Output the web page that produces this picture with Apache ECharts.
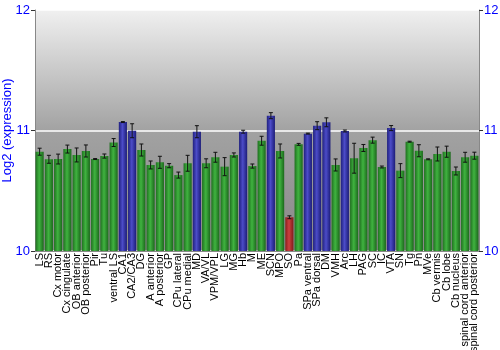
<!DOCTYPE html>
<html>
<head>
<meta charset="utf-8">
<script src="https://cdn.jsdelivr.net/npm/echarts@6/dist/echarts.min.js"></script>
<style>
  html, body { margin: 0; padding: 0; background: #fff; }
  #chart { width: 500px; height: 350px; }
</style>
</head>
<body>
<div id="chart"></div>
<script>
var regions = ['LS', 'RS', 'Cx motor', 'Cx cingulate', 'OB anterior', 'OB posterior', 'Pir', 'Tu',
  'ventral LS', 'CA1', 'CA2/CA3', 'DG', 'A anterior', 'A posterior', 'GP', 'CPu lateral', 'CPu medial',
  'MD', 'VA/VL', 'VPM/VPL', 'LG', 'MG', 'Hb', 'M', 'ME', 'SCN', 'MPO', 'SO', 'Pa', 'SPa ventral',
  'SPa dorsal', 'DM', 'VMH', 'Arc', 'LH', 'PAG', 'SC', 'IC', 'VTA', 'SN', 'Tg', 'Pn', 'MVe',
  'Cb vermis', 'Cb lobe', 'Cb nucleus', 'spinal cord anterior', 'spinal cord posterior'];

var expression = [10.824, 10.761, 10.763, 10.846, 10.797, 10.83, 10.763, 10.788,
  10.90, 11.07, 10.998, 10.838, 10.714, 10.736, 10.708, 10.63, 10.728,
  10.99, 10.728, 10.778, 10.70, 10.797, 10.99, 10.705, 10.915, 11.123, 10.83, 10.28, 10.885, 10.974,
  11.04, 11.068, 10.714, 10.996, 10.77, 10.855, 10.92, 10.697, 11.02, 10.667, 10.907, 10.832, 10.761,
  10.805, 10.824, 10.664, 10.778, 10.791];

var stdErr = [0.029, 0.033, 0.041, 0.033, 0.058, 0.05, 0.004, 0.017,
  0.033, 0.004, 0.058, 0.05, 0.033, 0.05, 0.017, 0.025, 0.066,
  0.05, 0.037, 0.041, 0.075, 0.017, 0.012, 0.017, 0.037, 0.025, 0.058, 0.012, 0.008, 0.004,
  0.033, 0.037, 0.05, 0.008, 0.124, 0.029, 0.025, 0.008, 0.021, 0.058, 0.004, 0.05, 0.004,
  0.058, 0.046, 0.033, 0.041, 0.029];

var yTicks = [10, 11, 12];

function barFill(v) {
  var stops;
  if (v >= 10.95) {
    stops = ['#20207e', '#4c4cc8', '#1c1c78'];
  } else if (v < 10.5) {
    stops = ['#8a1c1c', '#cc4040', '#801a1a'];
  } else {
    stops = ['#1f701f', '#40b340', '#1b681b'];
  }
  return new echarts.graphic.LinearGradient(0, 0, 1, 0, [
    { offset: 0, color: stops[0] },
    { offset: 0.45, color: stops[1] },
    { offset: 1, color: stops[2] }
  ]);
}

var myChart = echarts.init(document.getElementById('chart'));

var option = {
  animation: false,
  textStyle: { fontFamily: 'Liberation Sans, Arial, sans-serif' },
  grid: {
    left: 35, right: 21, top: 10, bottom: 99,
    containLabel: false,
    outerBoundsMode: 'none',
    show: true,
    borderWidth: 0,
    backgroundColor: new echarts.graphic.LinearGradient(0, 0, 0, 1, [
      { offset: 0, color: '#f0f0f0' },
      { offset: 0.5, color: '#a2a2a2' },
      { offset: 1, color: '#888888' }
    ])
  },
  xAxis: {
    type: 'category',
    data: regions,
    axisTick: { show: false },
    axisLine: { show: true, lineStyle: { color: '#888' } },
    axisLabel: {
      interval: 0,
      rotate: 90,
      margin: 2,
      fontSize: 11,
      color: '#000'
    }
  },
  yAxis: [{
    type: 'value',
    min: yTicks[0], max: yTicks[yTicks.length - 1], interval: 1,
    name: 'Log2 (expression)',
    nameLocation: 'middle',
    nameGap: 21,
    nameMoveOverlap: false,
    nameTextStyle: { color: '#0000ff', fontSize: 13 },
    axisLine: { show: true, lineStyle: { color: '#888' } },
    axisTick: { show: true, length: 4, lineStyle: { color: '#333' } },
    axisLabel: { color: '#0000ff', fontSize: 13, margin: 5 },
    splitLine: {
      show: true,
      lineStyle: { color: '#ffffff', width: 1.5 }
    }
  }, {
    type: 'value',
    position: 'right',
    min: yTicks[0], max: yTicks[yTicks.length - 1], interval: 1,
    axisLine: { show: true, lineStyle: { color: '#888' } },
    axisTick: { show: true, length: 4, lineStyle: { color: '#333' } },
    axisLabel: { color: '#0000ff', fontSize: 13, margin: 5 },
    splitLine: { show: false }
  }],
  series: [{
    type: 'bar',
    barCategoryGap: '12%',
    data: expression.map(function (v) {
      return { value: v, itemStyle: { color: barFill(v) } };
    }),
    z: 2
  }, {
    type: 'custom',
    z: 3,
    data: expression.map(function (v, i) {
      return [i, v - stdErr[i], v + stdErr[i]];
    }),
    renderItem: function (params, api) {
      var lo = api.coord([api.value(0), api.value(1)]);
      var hi = api.coord([api.value(0), api.value(2)]);
      var cap = 2;
      var st = { stroke: '#111', lineWidth: 1 };
      return {
        type: 'group',
        children: [
          { type: 'line', shape: { x1: lo[0], y1: lo[1], x2: hi[0], y2: hi[1] }, style: st },
          { type: 'line', shape: { x1: lo[0] - cap, y1: lo[1], x2: lo[0] + cap, y2: lo[1] }, style: st },
          { type: 'line', shape: { x1: hi[0] - cap, y1: hi[1], x2: hi[0] + cap, y2: hi[1] }, style: st }
        ]
      };
    }
  }]
};

myChart.setOption(option);
</script>
</body>
</html>
